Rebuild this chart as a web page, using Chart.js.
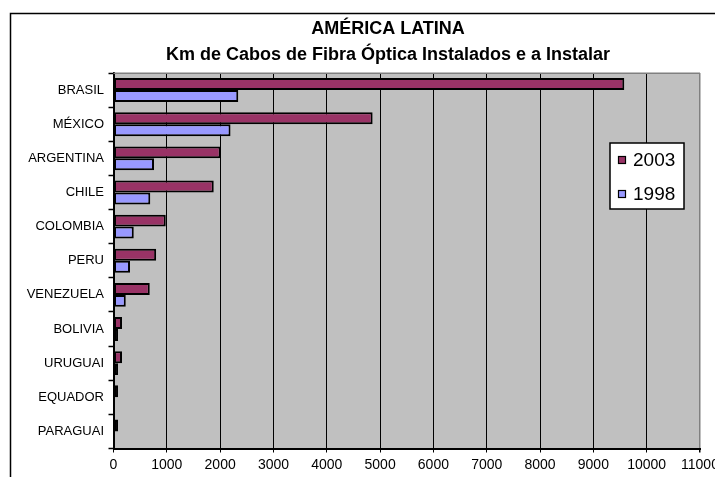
<!DOCTYPE html>
<html>
<head>
<meta charset="utf-8">
<script src="https://cdn.jsdelivr.net/npm/chart.js@4/dist/chart.umd.min.js"></script>
<style>
  html, body { margin: 0; padding: 0; background: #fff; overflow: hidden; }
  #wrap { position: absolute; left: 0; top: 0; width: 776px; height: 495px; }
</style>
</head>
<body>
<div id="wrap"><canvas id="c" width="776" height="495"></canvas></div>
<script>
const titleLines = ['AMÉRICA LATINA', 'Km de Cabos de Fibra Óptica Instalados e a Instalar'];
const countries = ['BRASIL', 'MÉXICO', 'ARGENTINA', 'CHILE', 'COLOMBIA', 'PERU', 'VENEZUELA', 'BOLIVIA', 'URUGUAI', 'EQUADOR', 'PARAGUAI'];
const seriesNames = ['2003', '1998'];
const values2003 = [9580, 4860, 2010, 1880, 980, 800, 680, 160, 160, 85, 85];
const values1998 = [2340, 2195, 760, 690, 380, 310, 230, 85, 85, null, null];
const xTickLabels = ['0', '1000', '2000', '3000', '4000', '5000', '6000', '7000', '8000', '9000', '10000', '11000'];
const seriesColors = ['#993366', '#9999FF'];

const FONT = '"Liberation Sans", Arial, sans-serif';

const decor = {
  id: 'decor',
  beforeDraw(chart) {
    const { ctx, chartArea: a } = chart;
    ctx.save();
    ctx.fillStyle = '#C0C0C0';
    ctx.fillRect(a.left, a.top, a.right - a.left, a.bottom - a.top);
    ctx.restore();
  },
  afterDraw(chart) {
    const { ctx, chartArea: a } = chart;
    ctx.save();
    ctx.strokeStyle = '#808080';
    ctx.lineWidth = 1.5;
    ctx.beginPath();
    ctx.moveTo(a.left, a.top + 0.25);
    ctx.lineTo(a.right, a.top + 0.25);
    ctx.stroke();
    ctx.strokeStyle = '#000';
    ctx.lineWidth = 1.5;
    ctx.strokeRect(10.5, 13.5, 760, 476);
    ctx.fillStyle = '#000';
    ctx.textAlign = 'center';
    ctx.textBaseline = 'alphabetic';
    ctx.font = 'bold 18px ' + FONT;
    ctx.fillText(titleLines[0], 388, 34);
    ctx.fillText(titleLines[1], 388, 59.5);
    const lx = 610, ly = 143, lw = 74, lh = 66;
    ctx.fillStyle = '#fff';
    ctx.fillRect(lx, ly, lw, lh);
    ctx.strokeStyle = '#000';
    ctx.lineWidth = 1.5;
    ctx.strokeRect(lx, ly, lw, lh);
    ctx.font = '19px ' + FONT;
    ctx.textAlign = 'left';
    const rows = [160, 194];
    chart.data.datasets.forEach((ds, i) => {
      const cy = rows[i];
      ctx.fillStyle = ds.backgroundColor;
      ctx.fillRect(618.5, cy - 3.5, 7, 7);
      ctx.strokeStyle = '#000';
      ctx.lineWidth = 1.2;
      ctx.strokeRect(618.5, cy - 3.5, 7, 7);
      ctx.fillStyle = '#000';
      ctx.textBaseline = 'middle';
      ctx.fillText(ds.label, 633, cy + 0.5);
    });
    ctx.restore();
  }
};

new Chart(document.getElementById('c'), {
  type: 'bar',
  data: {
    labels: countries,
    datasets: [
      { label: seriesNames[0], data: values2003, backgroundColor: seriesColors[0], borderColor: '#000', borderWidth: 2, borderSkipped: false, categoryPercentage: 0.7, barPercentage: 1 },
      { label: seriesNames[1], data: values1998, backgroundColor: seriesColors[1], borderColor: '#000', borderWidth: 2, borderSkipped: false, categoryPercentage: 0.7, barPercentage: 1 }
    ]
  },
  options: {
    indexAxis: 'y',
    responsive: false,
    animation: false,
    devicePixelRatio: 1,
    layout: { padding: { left: 10, right: 76, top: 73, bottom: 0 } },
    plugins: { legend: { display: false }, title: { display: false }, tooltip: { enabled: false } },
    scales: {
      x: {
        min: 0, max: 11000,
        afterFit(scale) { scale.height = 46.5; },
        ticks: {
          stepSize: 1000,
          autoSkip: false,
          maxRotation: 0,
          padding: 4,
          color: '#000',
          font: { family: FONT, size: 14 },
          callback: (v, i) => xTickLabels[i]
        },
        grid: {
          color: (c) => (c.tick && c.tick.value === 11000) ? '#808080' : '#000',
          lineWidth: (c) => (c.tick && c.tick.value === 11000) ? 1.5 : 1,
          drawTicks: true,
          tickLength: 4,
          tickColor: '#000'
        },
        border: { display: true, color: '#000', width: 2 }
      },
      y: {
        afterFit(scale) { scale.width = 103.5; },
        ticks: {
          padding: 4.5,
          color: '#000',
          font: { family: FONT, size: 13 }
        },
        grid: {
          offset: true,
          drawOnChartArea: false,
          drawTicks: true,
          tickLength: 5,
          tickColor: '#000',
          tickWidth: 1.5
        },
        border: { display: true, color: '#000', width: 2 }
      }
    }
  },
  plugins: [decor]
});
</script>
</body>
</html>
